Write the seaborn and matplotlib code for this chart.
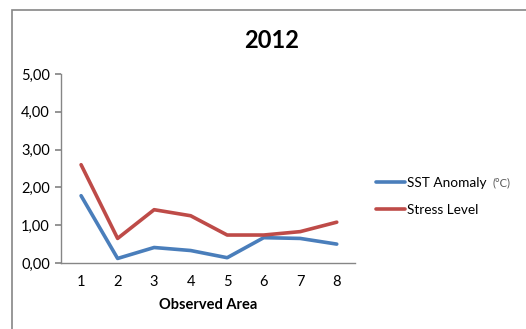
import matplotlib
matplotlib.use("Agg")
import matplotlib.pyplot as plt
import seaborn as sns
import pandas as pd
from matplotlib.patches import Rectangle
from matplotlib.ticker import FuncFormatter
from matplotlib.lines import Line2D

areas = [1, 2, 3, 4, 5, 6, 7, 8]
sst_anomaly = [1.78, 0.12, 0.41, 0.33, 0.14, 0.67, 0.65, 0.50]
stress_level = [2.60, 0.65, 1.41, 1.25, 0.74, 0.74, 0.83, 1.08]
series_names = ["SST Anomaly", "Stress Level"]
colors = ["#4a7ebb", "#be4b48"]

df = pd.DataFrame({
    "area": areas * 2,
    "value": sst_anomaly + stress_level,
    "series": [series_names[0]] * len(areas) + [series_names[1]] * len(areas),
})

sns.set_theme(style="white")
plt.rcParams["font.family"] = ["Lato", "DejaVu Sans"]
plt.rcParams["text.color"] = "black"

fig = plt.figure(figsize=(5.26, 3.29), dpi=100)
ax = fig.add_axes([61/526, 1-263/329, (355-61)/526, (263-74)/329])

sns.lineplot(data=df, x="area", y="value", hue="series", palette=colors,
             linewidth=2.6, ax=ax, legend=False)

ax.set_xlim(0.45, 8.5)
ax.set_ylim(0, 5)
ax.set_xticks(areas)
ax.set_yticks([0, 1, 2, 3, 4, 5])
ax.yaxis.set_major_formatter(FuncFormatter(lambda v, p: f"{v:.2f}".replace(".", ",")))
ax.tick_params(axis="y", length=4, color="#868686", labelsize=10.5, pad=4, direction="out", left=True,
               labelcolor="black")
ax.tick_params(axis="x", length=0, labelsize=10.5, pad=9, labelcolor="black")
for s in ["top", "right"]:
    ax.spines[s].set_visible(False)
for s in ["left", "bottom"]:
    ax.spines[s].set_color("#868686")
    ax.spines[s].set_linewidth(1.0)
ax.set_ylabel("")
ax.set_xlabel("Observed Area", fontsize=10.5, fontweight="bold", labelpad=6, color="black")

fig.text(272/526, 1-40/329, "2012", ha="center", va="center", fontsize=17, fontweight="bold",
         color="black")

handles = [Line2D([0], [0], color=c, lw=2.6) for c in colors]
leg = fig.legend(handles, series_names, loc="upper left",
                 bbox_to_anchor=(364/526, 1-165/329), frameon=False,
                 fontsize=9.8, handlelength=2.1, handletextpad=0.15, labelspacing=1.1)
for t in leg.get_texts():
    t.set_color("black")

fig.canvas.draw()
r = fig.canvas.get_renderer()
bb = leg.get_texts()[0].get_window_extent(r)
x0 = (bb.x1 + 6) / fig.bbox.width
y0 = (bb.y0 + bb.y1) / 2 / fig.bbox.height
fig.text(x0, y0, "(°C)", ha="left", va="center", fontsize=8, color="#595959")

fig.patches.append(Rectangle((12/526, -0.1), 1.2, 1-10/329+0.1, transform=fig.transFigure,
                             fill=False, edgecolor="#868686", linewidth=1.2))

fig.savefig("out.png", dpi=100)
